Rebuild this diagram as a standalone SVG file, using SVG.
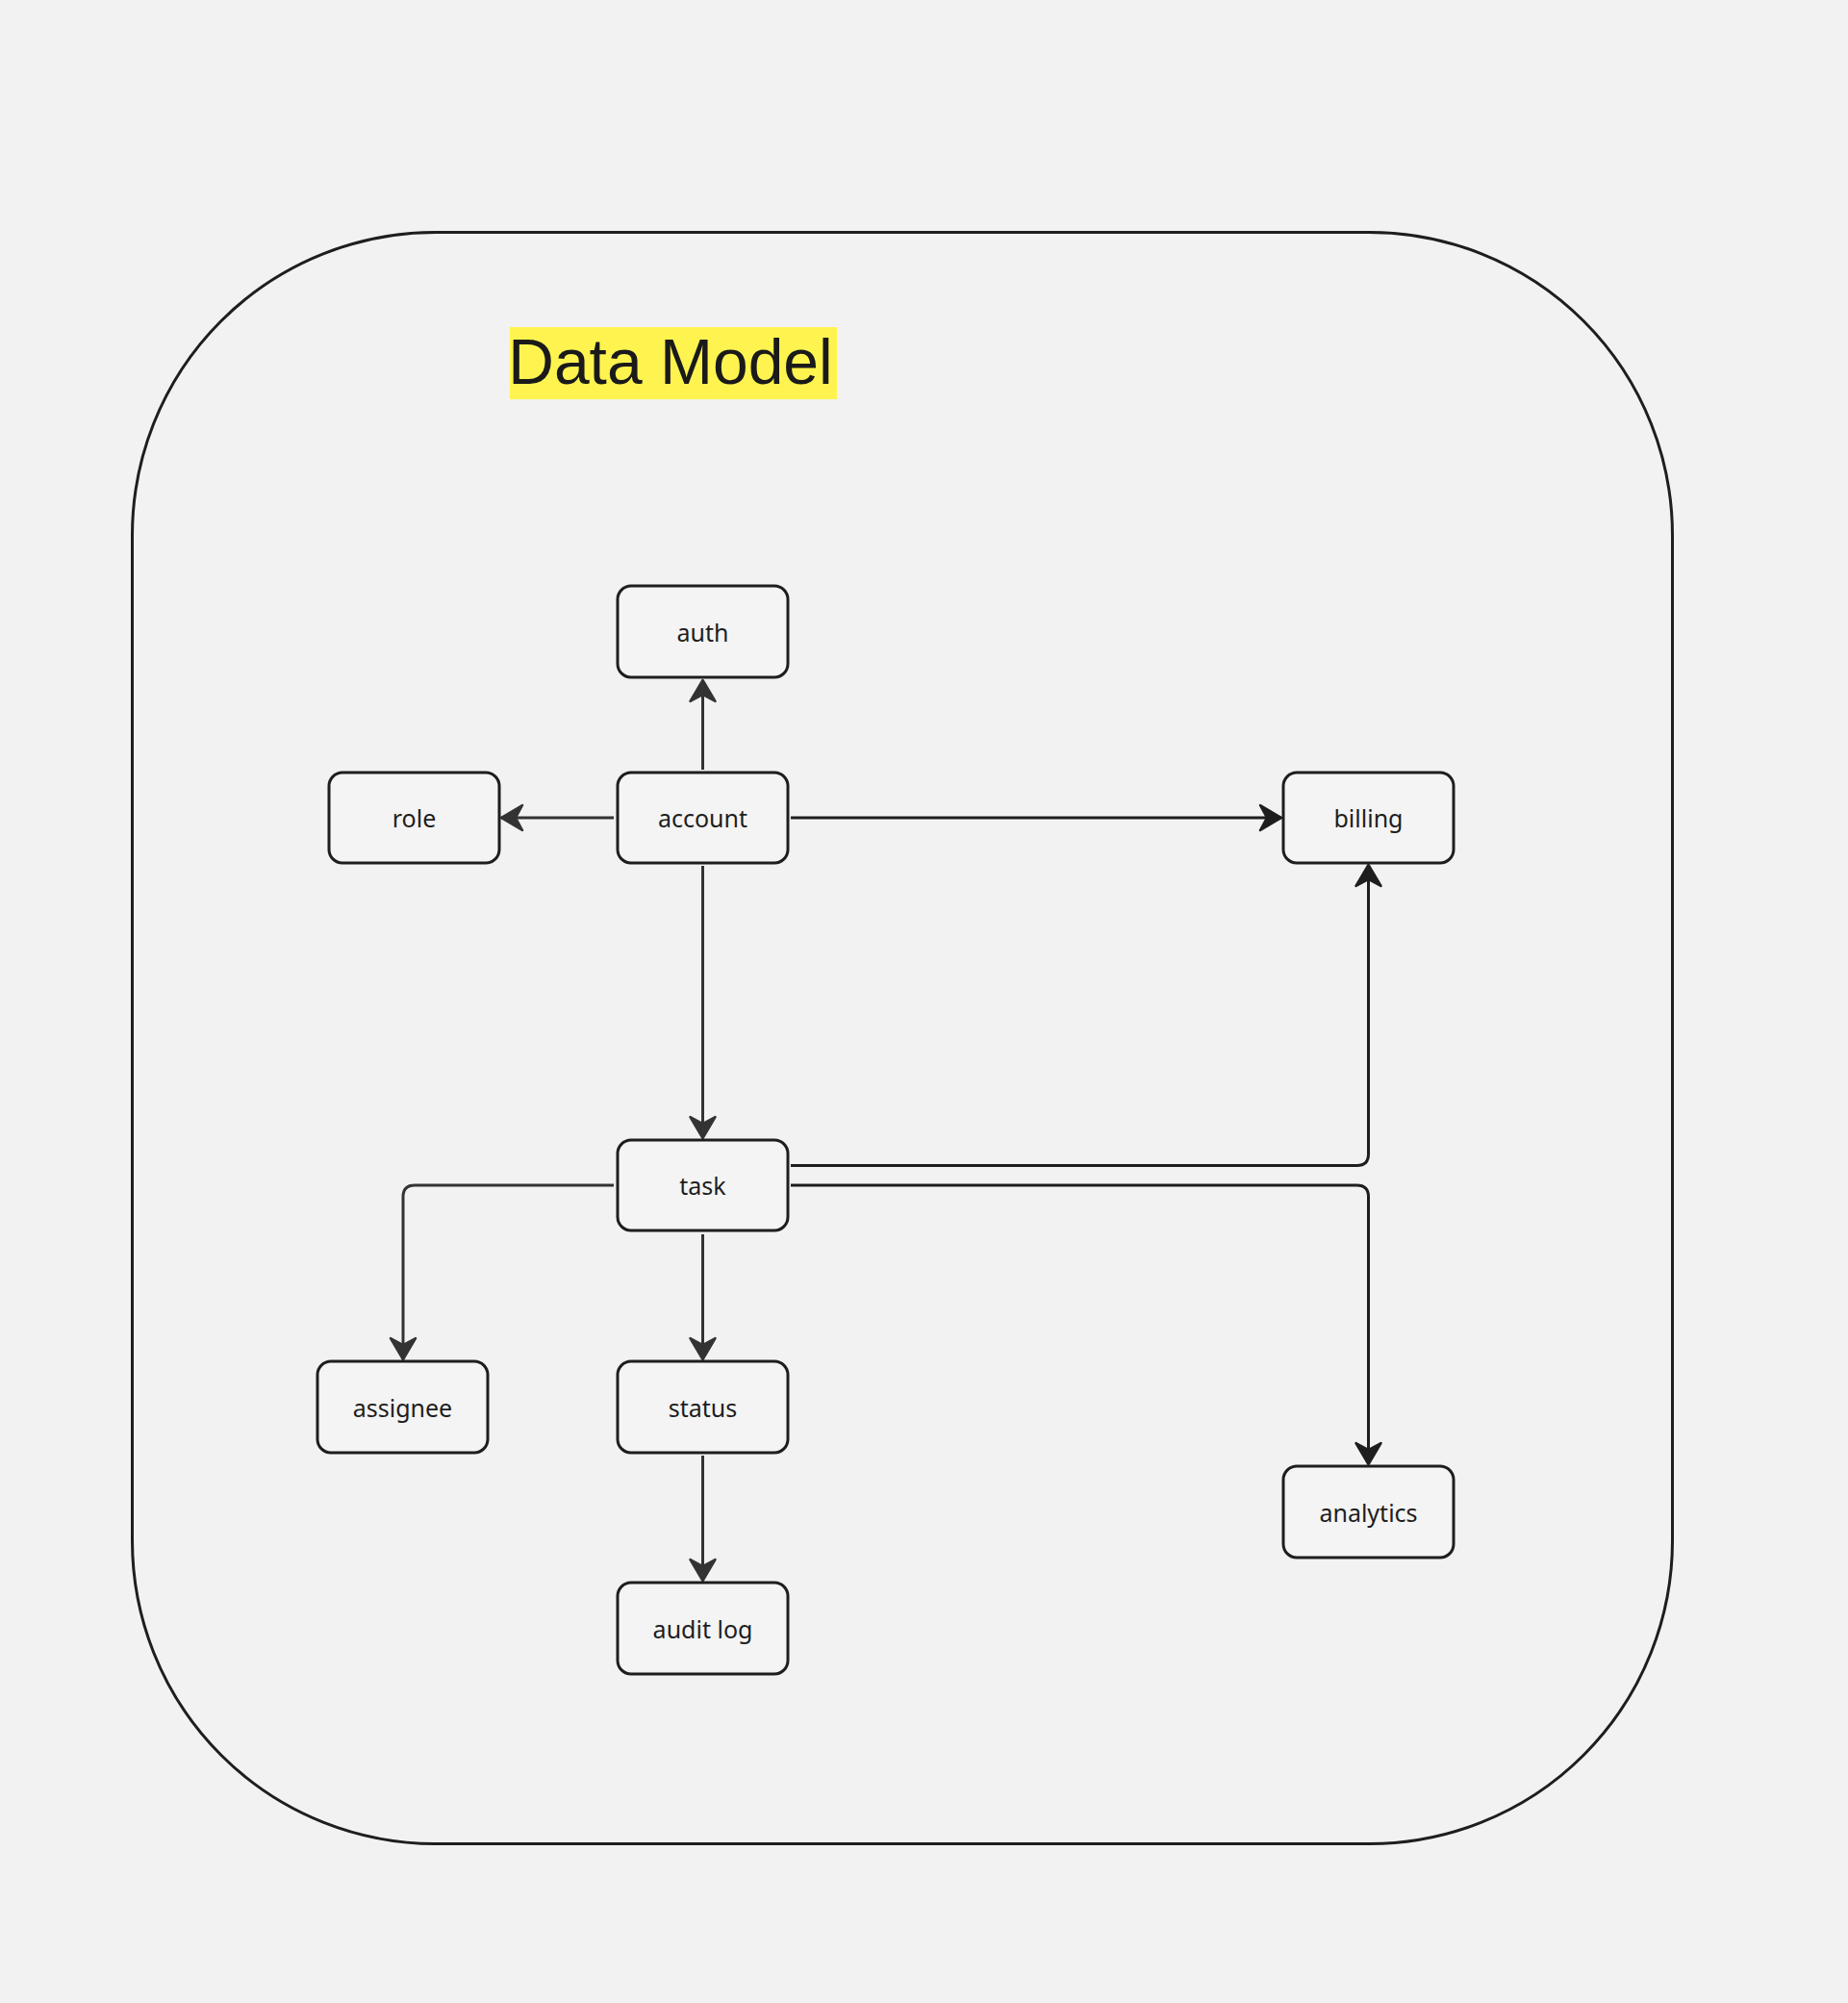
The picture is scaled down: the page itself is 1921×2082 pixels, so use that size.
<svg xmlns="http://www.w3.org/2000/svg" width="1921" height="2082" viewBox="0 0 1921 2082">
  <style>
    .node rect { fill: #f4f4f4; stroke: #1e1e1e; stroke-width: 3; }
    .node text { font-family: "Noto Sans", "Open Sans", sans-serif; font-size: 25px; fill: #1e1e1e; text-anchor: middle; }
    .conn { fill: none; stroke-width: 3; }
    .gray { stroke: #333333; marker-end: url(#arrGray); }
    .dark { stroke: #1e1e1e; marker-end: url(#arrDark); }
  </style>
  <defs>
    <marker id="arrGray" viewBox="-3 -3 30 32" refX="22" refY="13" markerWidth="30" markerHeight="32" markerUnits="userSpaceOnUse" orient="auto">
      <path d="M0,0 L22,13 L0,26 L7,13 Z" fill="#333333" stroke="#333333" stroke-width="2.5" stroke-linejoin="round"/>
    </marker>
    <marker id="arrDark" viewBox="-3 -3 30 32" refX="22" refY="13" markerWidth="30" markerHeight="32" markerUnits="userSpaceOnUse" orient="auto">
      <path d="M0,0 L22,13 L0,26 L7,13 Z" fill="#1e1e1e" stroke="#1e1e1e" stroke-width="2.5" stroke-linejoin="round"/>
    </marker>
  </defs>
  <rect x="0" y="0" width="1921" height="2082" fill="#f2f2f2"/>

  <g id="container">
    <rect x="137.5" y="241.5" width="1601" height="1675" rx="315" ry="315" fill="none" stroke="#1e1e1e" stroke-width="3"/>
  </g>

  <g id="title">
    <rect x="530" y="340" width="340" height="75" fill="#fff44f"/>
    <text x="697" y="399" font-family="Liberation Sans, Arial, sans-serif" font-size="66" fill="#1a1a1a" text-anchor="middle">Data Model</text>
  </g>

  <g id="connectors">
    <path class="conn gray" d="M730.5,800 V707"/>
    <path class="conn gray" d="M638,850 H521"/>
    <path class="conn dark" d="M822,850 H1332"/>
    <path class="conn gray" d="M730.5,900 V1183"/>
    <path class="conn dark" d="M822,1211.5 H1410.5 Q1422.5,1211.5 1422.5,1199.5 V899"/>
    <path class="conn dark" d="M822,1232 H1410.5 Q1422.5,1232 1422.5,1244 V1522"/>
    <path class="conn gray" d="M638,1232 H431 Q419,1232 419,1244 V1413"/>
    <path class="conn gray" d="M730.5,1283 V1413"/>
    <path class="conn gray" d="M730.5,1513 V1643"/>
  </g>

  <g id="auth" class="node">
    <rect x="642" y="609" width="177" height="95" rx="14"/>
    <text x="730.5" y="667">auth</text>
  </g>
  <g id="role" class="node">
    <rect x="342" y="803" width="177" height="94" rx="14"/>
    <text x="430.5" y="860">role</text>
  </g>
  <g id="account" class="node">
    <rect x="642" y="803" width="177" height="94" rx="14"/>
    <text x="730.5" y="860">account</text>
  </g>
  <g id="billing" class="node">
    <rect x="1334" y="803" width="177" height="94" rx="14"/>
    <text x="1422.5" y="860">billing</text>
  </g>
  <g id="task" class="node">
    <rect x="642" y="1185" width="177" height="94" rx="14"/>
    <text x="730.5" y="1242">task</text>
  </g>
  <g id="assignee" class="node">
    <rect x="330" y="1415" width="177" height="95" rx="14"/>
    <text x="418.5" y="1473">assignee</text>
  </g>
  <g id="status" class="node">
    <rect x="642" y="1415" width="177" height="95" rx="14"/>
    <text x="730.5" y="1473">status</text>
  </g>
  <g id="audit-log" class="node">
    <rect x="642" y="1645" width="177" height="95" rx="14"/>
    <text x="730.5" y="1703">audit log</text>
  </g>
  <g id="analytics" class="node">
    <rect x="1334" y="1524" width="177" height="95" rx="14"/>
    <text x="1422.5" y="1582">analytics</text>
  </g>
</svg>
